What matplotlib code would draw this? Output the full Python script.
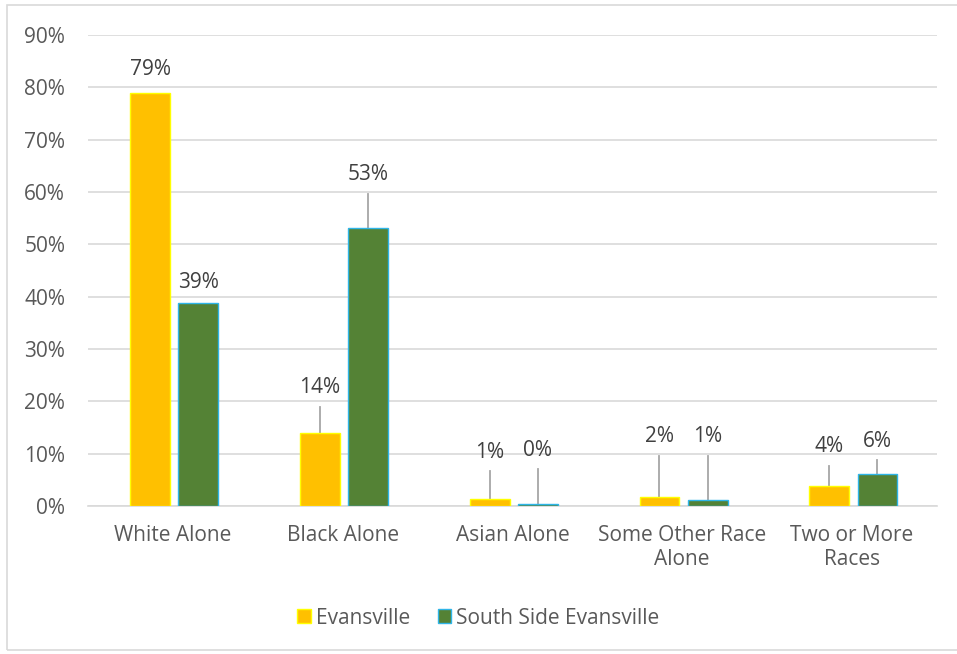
import matplotlib.pyplot as plt
from matplotlib.patches import Rectangle
import numpy as np

categories = ["White Alone", "Black Alone", "Asian Alone", "Some Other Race\nAlone", "Two or More\nRaces"]
evansville = [79.0, 13.9, 1.3, 1.7, 3.9]
south_side = [38.8, 53.1, 0.3, 1.2, 6.2]
series_names = ["Evansville", "South Side Evansville"]

# where each data label sits (percent units); a leader line is drawn when it floats off the bar
evansville_label_y = [83.4, 22.6, 10.3, 13.2, 11.3]
south_side_label_y = [42.8, 63.3, 10.7, 13.2, 12.4]

plt.rcParams["font.family"] = ["Open Sans", "DejaVu Sans"]

TEXT = "#595959"
GRID = "#D9D9D9"
LEADER = "#A6A6A6"
FS = 15

fig = plt.figure(figsize=(9.57, 6.54), dpi=100)
ax = fig.add_axes([0.092, 0.2263, 0.887, 0.7202])

x = np.arange(len(categories))
width = 0.235
off = 0.142
shift = 0.008

bars1 = ax.bar(x - off + shift, evansville, width, color="#FFC000", edgecolor="#FFFF00", linewidth=1, zorder=3,
               label=series_names[0])
bars2 = ax.bar(x + off + shift, south_side, width, color="#548235", edgecolor="#2FB5E8", linewidth=1, zorder=3,
               label=series_names[1])

for bars, vals, label_y in [(bars1, evansville, evansville_label_y), (bars2, south_side, south_side_label_y)]:
    for b, v, ly in zip(bars, vals, label_y):
        cx = b.get_x() + b.get_width() / 2
        ax.text(cx, ly, f"{v:.0f}%", ha="center", va="center", fontsize=FS, color="#404040", zorder=4)
        if ly - v > 6:
            ax.plot([cx, cx], [v, ly - 3.6], color=LEADER, linewidth=1.3, zorder=2)

ax.set_xlim(-0.5, len(categories) - 0.5)
ax.set_ylim(0, 90)
ax.set_yticks(np.arange(0, 91, 10))
ax.set_yticklabels([f"{t}%" for t in range(0, 91, 10)])
ax.set_xticks(x)
ax.set_xticklabels(categories, linespacing=1.15)
ax.tick_params(axis="both", length=0, labelsize=FS, labelcolor=TEXT)
ax.tick_params(axis="y", pad=16.5)
ax.tick_params(axis="x", pad=14)

ax.grid(axis="y", color=GRID, linewidth=1.2, zorder=0)
for side in ["top", "right", "left"]:
    ax.spines[side].set_visible(False)
ax.spines["bottom"].set_color(GRID)
ax.spines["bottom"].set_linewidth(1.2)

leg = fig.legend(loc="center", bbox_to_anchor=(0.5, 0.055), ncol=2, frameon=False,
                 fontsize=FS, handlelength=0.65, handleheight=0.65, handletextpad=0.25,
                 columnspacing=1.3)
for t in leg.get_texts():
    t.set_color(TEXT)

# light chart frame
fig.patches.append(Rectangle((7.5 / 957, 4 / 654), 1.0, 1 - 9 / 654, transform=fig.transFigure,
                             fill=False, edgecolor=GRID, linewidth=1.2))

fig.savefig("out.png", dpi=100)
